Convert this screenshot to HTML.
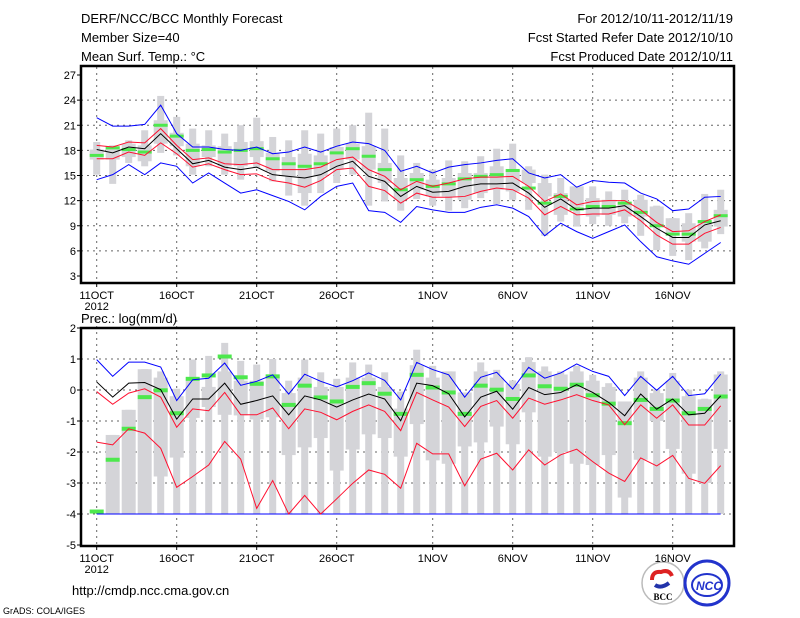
<!DOCTYPE html>
<html><head><meta charset="utf-8">
<style>
html,body{margin:0;padding:0;background:#fff;}
svg{display:block;font-family:"Liberation Sans",sans-serif;}
</style></head>
<body>
<svg id="chart" width="800" height="618" viewBox="0 0 800 618" xmlns="http://www.w3.org/2000/svg">
<rect x="0" y="0" width="800" height="618" fill="#fff"/>
<g font-size="13" fill="#000">
<text x="81" y="23">DERF/NCC/BCC Monthly Forecast</text>
<text x="81" y="42">Member Size=40</text>
<text x="81" y="61">Mean Surf. Temp.: °C</text>
<text x="733" y="23" text-anchor="end">For 2012/10/11-2012/11/19</text>
<text x="733" y="42" text-anchor="end">Fcst Started Refer Date 2012/10/10</text>
<text x="733" y="61" text-anchor="end">Fcst Produced Date 2012/10/11</text>
</g>
<text x="81" y="323" font-size="13">Prec.: log(mm/d)</text>
<text x="72" y="595" font-size="13">http://cmdp.ncc.cma.gov.cn</text>
<text x="3" y="614" font-size="9">GrADS: COLA/IGES</text>
<g>
<circle cx="663" cy="583" r="21" fill="#fff" stroke="#bbb" stroke-width="1.5"/>
<path d="M652 580 q0 -9 9 -8 q8 -3 11 4" stroke="#d22" stroke-width="4" fill="none"/>
<path d="M655 585 q6 4 14 -2" stroke="#23a" stroke-width="4" fill="none"/>
<text x="663" y="600" font-size="9" font-weight="bold" text-anchor="middle" font-family="Liberation Serif,serif">BCC</text>
</g>
<g>
<circle cx="707" cy="583" r="22" fill="#fff" stroke="#2233cc" stroke-width="3"/>
<ellipse cx="707" cy="585" rx="15" ry="11" fill="none" stroke="#2233cc" stroke-width="2"/>
<text x="709" y="590" font-size="12" font-weight="bold" font-style="italic" fill="#2233cc" text-anchor="middle">NCC</text>
</g>
<g id="plots"></g>
</svg>
<script>
// ---------- Temperature data ----------
const days = ["11OCT","","","","","16OCT","","","","","21OCT","","","","","26OCT","","","","","","1NOV","","","","","6NOV","","","","","11NOV","","","","","16NOV","","",""];
const tTicks = [3,6,9,12,15,18,21,24,27];
const tBlueHi = [21.9,20.9,20.9,21.1,23.4,20.0,18.4,18.4,18.1,18.0,18.4,17.6,17.8,18.4,17.8,18.5,19.0,18.8,18.0,15.5,16.1,15.3,16.0,16.3,16.5,16.8,17.0,15.3,14.7,15.1,13.6,14.4,14.2,14.1,12.9,12.2,10.8,11.0,12.4,12.5];
const tBlueLo = [14.5,15.1,16.3,15.1,16.5,16.1,14.1,15.3,14.1,12.9,13.3,12.6,11.9,10.9,12.5,13.7,14.1,10.8,10.6,9.4,11.3,10.9,10.6,10.6,11.2,11.5,11.1,10.1,7.8,9.3,8.3,7.5,8.3,9.1,7.1,5.3,4.8,4.4,5.7,7.0];
const tMean = [18.1,17.7,18.4,18.2,20.0,18.2,16.4,16.8,16.0,15.7,16.0,15.1,14.9,14.7,15.1,16.1,16.7,14.9,14.3,12.5,13.7,13.0,13.1,13.7,14.0,14.0,14.1,12.9,11.2,12.2,10.9,11.1,11.1,11.4,10.1,8.7,7.6,7.6,9.1,9.6];
const tRedHi = [18.6,18.4,19.0,18.9,20.6,18.6,16.9,17.1,16.4,16.3,16.5,15.7,15.7,15.7,16.0,16.9,17.2,15.7,14.9,13.3,14.3,13.7,14.1,14.6,14.8,14.8,14.9,13.7,11.9,12.8,11.5,11.9,12.0,12.0,10.9,9.4,8.3,8.4,9.5,10.3];
const tRedLo = [17.0,17.0,17.8,17.4,18.9,17.6,16.0,16.4,15.7,15.1,15.2,14.4,14.1,13.6,14.4,15.7,15.9,13.7,13.2,11.7,12.9,12.4,12.4,12.5,13.1,13.5,13.3,12.3,10.3,11.3,10.3,10.4,10.4,10.9,9.6,7.9,6.8,6.8,8.1,8.8];
const tObs = [17.4,18.3,18.1,17.8,21.0,19.7,18.0,18.1,17.8,18.0,18.2,17.0,16.4,16.1,16.4,17.7,18.2,17.3,15.7,13.3,14.5,13.7,14.0,14.6,14.9,15.1,15.6,13.5,11.7,12.5,11.0,11.3,11.3,11.7,10.6,9.0,8.0,8.0,9.5,10.2];
const tWMax = [19.0,18.6,19.2,20.4,24.5,22.0,20.6,20.4,20.0,21.0,21.9,19.6,19.2,20.4,20.0,20.6,21.0,22.5,20.6,17.4,16.5,15.7,16.8,16.7,17.3,18.2,18.8,16.1,15.1,14.7,13.6,13.7,13.1,13.3,12.7,11.4,9.9,10.5,12.8,13.3];
const tWMin = [15.1,14.0,16.5,16.1,17.7,17.4,15.1,16.1,15.1,14.5,15.9,14.3,12.6,11.4,12.9,14.1,15.1,11.4,11.9,10.8,12.2,11.4,10.8,11.1,12.3,11.6,12.1,10.9,7.8,9.5,8.9,9.2,9.0,9.3,7.8,6.1,5.4,4.9,6.3,8.0];
const tQHi = [18.1,18.5,18.8,18.6,21.6,20.1,18.8,18.6,18.5,19.0,19.1,17.7,17.2,17.6,17.4,18.4,18.8,18.5,16.5,14.7,15.3,14.5,14.7,15.3,15.3,16.1,15.7,15.7,14.1,12.9,13.7,12.3,12.1,11.7,12.1,11.3,9.9,9.3,9.3,10.9];
const tQLo = [16.9,16.9,17.2,16.7,18.8,18.5,16.1,17.2,16.1,16.1,17.2,15.5,14.9,12.9,14.9,15.7,16.9,15.7,14.1,12.1,13.3,12.5,12.5,12.1,12.9,13.3,13.1,14.1,12.5,10.3,11.3,10.1,10.3,10.1,10.1,8.9,8.1,7.1,7.1,8.9];
// ---------- Precipitation data ----------
const pTicks = [-5,-4,-3,-2,-1,0,1,2];
const pBlueHi = [0.98,0.44,0.9,0.9,0.74,-0.34,0.33,0.38,0.87,0.15,0.28,0.49,-0.13,0.51,0.28,0.1,0.3,0.55,0.31,-0.32,0.89,0.66,0.49,-0.23,0.41,0.57,0.03,0.73,0.38,0.55,0.84,0.6,0.44,-0.18,0.44,-0.01,0.44,-0.18,-0.12,0.51];
const pBlueLo = [-4,-4,-4,-4,-4,-4,-4,-4,-4,-4,-4,-4,-4,-4,-4,-4,-4,-4,-4,-4,-4,-4,-4,-4,-4,-4,-4,-4,-4,-4,-4,-4,-4,-4,-4,-4,-4,-4,-4,-4];
const pMean = [0.26,-0.23,0.22,0.24,0.01,-0.94,-0.29,-0.29,0.22,-0.46,-0.34,-0.19,-0.8,-0.19,-0.32,-0.55,-0.32,-0.13,-0.29,-0.99,0.22,0.14,-0.12,-0.87,-0.23,-0.04,-0.62,0.08,-0.15,-0.08,0.17,-0.08,-0.4,-0.83,-0.13,-0.62,-0.29,-0.8,-0.75,-0.19];
const pRedHi = [-0.05,-0.46,-0.1,0.04,-0.23,-1.2,-0.61,-0.67,-0.08,-0.8,-0.8,-0.58,-1.25,-0.61,-0.72,-0.96,-0.69,-0.48,-0.69,-1.31,-0.08,-0.32,-0.55,-1.18,-0.53,-0.34,-0.91,-0.26,-0.46,-0.32,-0.15,-0.34,-0.48,-1.12,-0.48,-0.91,-0.48,-1.13,-1.13,-0.51];
const pRedLo = [-1.68,-1.77,-1.25,-1.39,-1.88,-3.14,-2.79,-2.42,-1.66,-2.23,-3.82,-2.92,-4.0,-3.4,-4.0,-3.51,-3.01,-2.58,-2.72,-3.17,-1.72,-2.06,-2.06,-3.09,-2.23,-2.04,-2.58,-1.93,-2.42,-2.09,-1.91,-2.31,-2.68,-2.95,-2.19,-2.45,-2.11,-2.85,-3.01,-2.44];
const pObs = [-3.92,-2.25,-1.25,-0.23,-0.01,-0.75,0.36,0.47,1.08,0.41,0.2,0.44,-0.48,0.14,-0.24,-0.37,0.1,0.22,-0.12,-0.77,0.49,0.08,-0.08,-0.77,0.14,0.01,-0.29,0.47,0.12,0.04,0.17,-0.17,-0.44,-1.07,-0.32,-0.61,-0.34,-0.75,-0.61,-0.21];
const pWMax = [null,-1.45,-0.64,0.67,0.6,0.04,0.98,1.1,1.52,0.94,0.82,1.0,0.3,0.98,0.57,0.36,0.89,0.82,0.57,-0.05,1.3,0.78,0.6,-0.08,0.89,0.65,0.31,1.06,0.76,0.6,0.78,0.49,0.22,-0.37,0.6,0.02,0.55,0.01,-0.28,0.6];
const pWMin = [null,-4,-4,-4,-4,-4,-4,-4,-4,-4,-4,-4,-4,-4,-4,-4,-4,-4,-4,-4,-4,-4,-4,-4,-4,-4,-4,-4,-4,-4,-4,-4,-4,-4,-4,-4,-4,-4,-4,-4];
const pQHi = [null,-1.45,-0.64,0.67,0.4,-0.2,0.3,0.1,0.6,0.3,0.3,0.5,-0.1,0.4,0.1,0.1,0.4,0.4,0.1,-0.6,0.8,0.4,0.6,-0.08,0.6,0.4,0.2,0.9,0.6,0.5,0.6,0.3,0.1,-0.37,0.4,-0.1,0.3,-0.2,-0.3,0.5];
const pQLo = [null,-4,-4,-4,-2.79,-2.18,-0.9,-0.55,-0.8,-0.82,-0.95,-0.88,-2.1,-1.85,-1.55,-2.6,-1.92,-1.43,-1.55,-2.15,-1.1,-2.27,-2.38,-1.82,-1.69,-1.18,-1.75,-0.72,-2.15,-2.0,-2.38,-2.42,-2.1,-3.47,-2.25,-1.0,-1.9,-2.7,-3.0,-1.9];

const NS = "http://www.w3.org/2000/svg";
const root = document.getElementById('plots');
function mk(tag, attrs, parent){ const e=document.createElementNS(NS,tag); for(const k in attrs) e.setAttribute(k,attrs[k]); (parent||root).appendChild(e); return e; }
const xOf = i => 96.7 + 16*i;

function panel(cfg){
  const g = mk('g',{});
  
  
  const yOf = v => cfg.y0 + (cfg.vMax - v) * (cfg.y1 - cfg.y0) / (cfg.vMax - cfg.vMin);
  // grid
  cfg.ticks.forEach(t=>{
    const y=yOf(t);
    if (t!==cfg.vMin && t!==cfg.vMax){
      const l=mk('line',{x1:cfg.left,x2:cfg.right,y1:y,y2:y,stroke:'#666','stroke-width':1,'stroke-dasharray':'2,4'},g);
      
      
    }
    const tk=mk('line',{x1:cfg.left-4,x2:cfg.left,y1:y,y2:y,stroke:'#000','stroke-width':1},g);
    
    
    const tx=mk('text',{x:cfg.left-5,y:y+4,'font-size':11,'text-anchor':'end'},g);
    tx.textContent=String(t).replace('-','–').replace('–','-');
    
    
  });
  days.forEach((d,i)=>{
    if(!d) return;
    const x=xOf(i);
    const l=mk('line',{x1:x,x2:x,y1:cfg.y0-8,y2:cfg.boxBottom,stroke:'#666','stroke-width':1,'stroke-dasharray':'2,4'},g);
    
    
    const tk=mk('line',{x1:x,x2:x,y1:cfg.boxBottom,y2:cfg.boxBottom+4,stroke:'#000'},g);
    
    
    const tx=mk('text',{x:x,y:cfg.boxBottom+16,'font-size':11,'text-anchor':'middle'},g);
    tx.textContent=d;
    
    
  });
  const yr=mk('text',{x:xOf(0),y:cfg.boxBottom+27,'font-size':11,'text-anchor':'middle'},g);
  yr.textContent='2012';
  
  
  // boxes
  cfg.wMax.forEach((w,i)=>{
    if(w===null) return;
    const x=xOf(i);
    const wh=mk('rect',{x:x-3.5,y:yOf(w),width:7,height:yOf(cfg.wMin[i])-yOf(w),fill:'#d4d4d8'},g);
    
    
    const bx=mk('rect',{x:x-7,y:yOf(cfg.qHi[i]),width:14,height:yOf(cfg.qLo[i])-yOf(cfg.qHi[i]),fill:'#d4d4d8'},g);
    
    
  });
  cfg.obs.forEach((v,i)=>{
    const r=mk('rect',{x:xOf(i)-7,y:yOf(v)-cfg.obsH/2,width:14,height:cfg.obsH,fill:'#4de84d'},g);
    
    
  });
  const line=(arr,col,name)=>{
    const p=mk('polyline',{points:arr.map((v,i)=>xOf(i)+','+yOf(v)).join(' '),fill:'none',stroke:col,'stroke-width':1},g);
    
    
  };
  line(cfg.blueHi,'#0000ff','max-line');
  line(cfg.blueLo,'#0000ff','min-line');
  line(cfg.redHi,'#ff1030','upper-line');
  line(cfg.redLo,'#ff1030','lower-line');
  line(cfg.mean,'#000','mean-line');
  const fr=mk('rect',{x:cfg.left,y:cfg.boxTop,width:cfg.right-cfg.left,height:cfg.boxBottom-cfg.boxTop,fill:'none',stroke:'#000','stroke-width':2.5},g);
  
  
}

panel({name:'temperature-panel',left:81,right:734,boxTop:66,boxBottom:283,y0:75,y1:276,vMax:27,vMin:3,ticks:tTicks,
  wMax:tWMax,wMin:tWMin,qHi:tQHi,qLo:tQLo,obs:tObs,obsH:3,blueHi:tBlueHi,blueLo:tBlueLo,redHi:tRedHi,redLo:tRedLo,mean:tMean});
panel({name:'precipitation-panel',left:81,right:734,boxTop:328,boxBottom:546,y0:328,y1:545,vMax:2,vMin:-5,ticks:pTicks,
  wMax:pWMax,wMin:pWMin,qHi:pQHi,qLo:pQLo,obs:pObs,obsH:4,blueHi:pBlueHi,blueLo:pBlueLo,redHi:pRedHi,redLo:pRedLo,mean:pMean});
</script>
</body></html>
